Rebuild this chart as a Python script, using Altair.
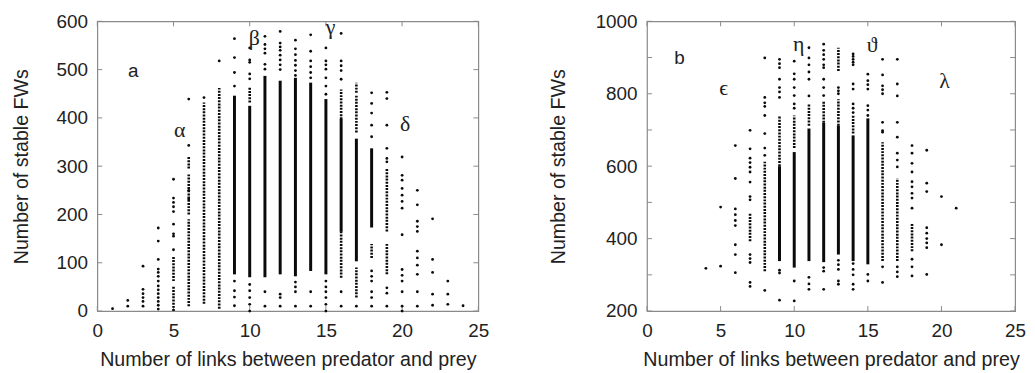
import altair as alt
import pandas as pd

# ---------------- data: panel a ----------------
A_POINTS = {
    1: [5],
    2: [22, 10],
    3: [93, 45, 36, 28, 20, 10],
    4: [172, 145, 107, 87, 80, 72, 62, 52, 44, 36, 28, 20, 12, 4],
    5: [273, 234, 225, 216, 206, 180, 160, 155, 127],
    6: [439, 343, 250, 232],
    7: [442],
    8: [518],
    9: [564, 525, 494, 466, 62, 42, 29, 11],
    10: [545, 520, 515, 491, 481, 55, 42, 28, 14, 0],
    11: [569, 552, 543, 534, 511, 501, 40, 10],
    12: [579, 555, 547, 540, 530, 520, 510, 500, 35, 28, 10],
    13: [561, 543, 531, 519, 509, 498, 488, 60, 50, 40, 10],
    14: [572, 538, 518, 506, 494, 483, 40, 10],
    15: [545, 518, 510, 501, 483, 466, 449, 62, 50, 40, 28, 14, 0],
    16: [575, 518, 508, 498, 480, 40, 10],
    17: [10],
    18: [452, 430, 410, 385, 361, 83, 72, 62, 40, 28, 10],
    19: [453, 440, 385, 337, 316, 309, 48, 37, 10],
    20: [319, 281, 271, 254, 240, 227, 213, 158, 86, 74, 62, 40, 10, 0],
    21: [250, 220, 186, 175, 165, 124, 110, 95, 76, 40, 10],
    22: [191, 107, 80, 35, 12],
    23: [62, 35, 14],
    24: [11],
}
A_SOLID = [
    (9, 76, 446), (10, 70, 425), (11, 70, 487), (12, 76, 477),
    (13, 72, 483), (14, 83, 473), (15, 76, 439), (16, 164, 398),
    (17, 103, 357), (18, 173, 337),
]
A_DOTTED = [
    (5, 62, 112), (5, 0, 51), (6, 295, 320), (6, 200, 285), (6, 10, 190),
    (7, 15, 432), (8, 5, 462), (10, 432, 463), (16, 397, 459), (16, 69, 164),
    (17, 452, 473), (17, 370, 446), (17, 28, 90), (18, 110, 139),
    (19, 165, 295), (19, 76, 139),
]
A_LABELS = [(2.35, 497, "a", "sans"), (5.4, 374, "α", "serif"),
            (10.3, 565, "β", "serif"), (15.3, 588, "γ", "serif"),
            (20.2, 388, "δ", "serif")]

# ---------------- data: panel b ----------------
B_POINTS = {
    4: [318],
    5: [487, 324],
    6: [657, 566, 482, 466, 450, 436, 383, 356, 306],
    7: [699, 648, 622, 610, 597, 584, 556, 516, 507, 356, 345, 334, 279, 268],
    8: [899, 790, 775, 765, 740, 690, 650, 630, 257],
    9: [895, 883, 872, 840, 817, 805, 790, 313, 305, 230],
    10: [890, 855, 840, 817, 795, 772, 760, 283, 228],
    11: [927, 899, 880, 860, 840, 794, 293, 275, 260],
    12: [937, 920, 908, 895, 880, 872, 840, 817, 795, 320, 310, 260],
    13: [817, 808, 800, 340, 328, 315, 283, 274],
    14: [910, 903, 895, 887, 880, 827, 813, 772, 760, 748, 331, 315, 300, 274, 260],
    15: [854, 836, 825, 813, 767, 755, 740, 301, 283],
    16: [895, 852, 822, 811, 800, 721, 698, 694, 322, 279],
    17: [895, 827, 794, 721, 680, 636, 617, 598, 322, 308, 295],
    18: [657, 636, 608, 584, 557, 543, 525, 512, 484, 343, 322, 297],
    19: [644, 553, 530, 430, 415, 400, 388, 375, 301],
    20: [516, 383],
    21: [484],
}
B_SOLID = [
    (9, 338, 600), (10, 320, 639), (11, 338, 704), (12, 335, 720),
    (13, 356, 712), (14, 338, 685), (15, 329, 732),
]
B_DOTTED = [
    (7, 393, 471), (8, 310, 612), (9, 600, 740), (10, 650, 740),
    (11, 712, 772), (12, 720, 780), (13, 863, 927), (13, 712, 785),
    (14, 690, 740), (16, 338, 666), (17, 338, 567), (18, 365, 444),
]
B_LABELS = [(2.2, 898, "b", "sans"), (5.2, 816, "ϵ", "serif"),
            (10.3, 937, "η", "serif"), (15.3, 934, "ϑ", "serif"),
            (20.2, 836, "λ", "serif")]

X_TICKS = [0, 5, 10, 15, 20, 25]
A_YTICKS = [0, 100, 200, 300, 400, 500, 600]
B_YTICKS = [200, 300, 400, 500, 600, 700, 800, 900, 1000]

X_TITLE = "Number of links between predator and prey"
Y_TITLE = "Number of stable FWs"

SANS = "Liberation Sans"
SERIF = "Liberation Serif"
INK = "#0a0a0a"
FRAME = "#8a8a8a"


def panel(points, solid, dotted, labels, yticks, ydom, w, h, ytp):
    pts = pd.DataFrame([(x, y) for x, ys in points.items() for y in ys],
                       columns=["x", "y"])
    sol = pd.DataFrame(solid, columns=["x", "lo", "hi"])
    dot = pd.DataFrame(dotted, columns=["x", "lo", "hi"])
    lab = pd.DataFrame(labels, columns=["x", "y", "t", "f"])
    xt = pd.DataFrame({"v": X_TICKS})
    yt = pd.DataFrame({"v": yticks})

    xs = alt.Scale(domain=[0, 25], nice=False, zero=False)
    ys = alt.Scale(domain=ydom, nice=False, zero=False)

    base_x = alt.X("x:Q", scale=xs, title=X_TITLE,
                   axis=alt.Axis(values=X_TICKS, labelFlush=False,
                                 format="d", titlePadding=9, labelPadding=11))
    base_y = alt.Y("y:Q", scale=ys, title=Y_TITLE,
                   axis=alt.Axis(values=yticks, format="d", titlePadding=ytp,
                                 labelPadding=10))

    p = alt.Chart(pts).mark_circle(size=8, color=INK, opacity=1).encode(
        x=base_x, y=base_y)
    s = alt.Chart(sol).mark_rule(color=INK, strokeWidth=3).encode(
        x=alt.X("x:Q", scale=xs), y=alt.Y("lo:Q", scale=ys), y2="hi:Q")
    d = alt.Chart(dot).mark_rule(color=INK, strokeWidth=2.6,
                                 strokeDash=[2, 1.2]).encode(
        x=alt.X("x:Q", scale=xs), y=alt.Y("lo:Q", scale=ys), y2="hi:Q")
    ls = alt.Chart(lab[lab.f == "sans"]).mark_text(
        font=SANS, fontSize=19, color="#222", baseline="middle",
        align="center").encode(
        x=alt.X("x:Q", scale=xs), y=alt.Y("y:Q", scale=ys), text="t:N")
    lg = alt.Chart(lab[lab.f == "serif"]).mark_text(
        font=SERIF, fontSize=22, color="#222", baseline="middle",
        align="center").encode(
        x=alt.X("x:Q", scale=xs), y=alt.Y("y:Q", scale=ys), text="t:N")

    tb = alt.Chart(xt).mark_rule(color=FRAME, strokeWidth=1).encode(
        x=alt.X("v:Q", scale=xs), y=alt.value(h), y2=alt.value(h - 5))
    tt = alt.Chart(xt).mark_rule(color=FRAME, strokeWidth=1).encode(
        x=alt.X("v:Q", scale=xs), y=alt.value(0), y2=alt.value(5))
    tl = alt.Chart(yt).mark_rule(color=FRAME, strokeWidth=1).encode(
        y=alt.Y("v:Q", scale=ys), x=alt.value(0), x2=alt.value(5))
    tr = alt.Chart(yt).mark_rule(color=FRAME, strokeWidth=1).encode(
        y=alt.Y("v:Q", scale=ys), x=alt.value(w - 5), x2=alt.value(w))

    return alt.layer(tb, tt, tl, tr, d, s, p, ls, lg).properties(
        width=w, height=h)


pa = panel(A_POINTS, A_SOLID, A_DOTTED, A_LABELS, A_YTICKS, [0, 600], 384, 292, 25)
pb = panel(B_POINTS, B_SOLID, B_DOTTED, B_LABELS, B_YTICKS, [200, 1000], 371, 292, 27)

chart = alt.hconcat(pa, pb, spacing=58).properties(
    padding={"left": 2, "top": 2, "right": 0, "bottom": 0},
    background="white",
).configure_view(stroke=FRAME, strokeWidth=1.2).configure_axis(
    grid=False, ticks=False, domain=False,
    labelFont=SANS, labelFontSize=19, labelColor="#222",
    titleFont=SANS, titleFontSize=19.8, titleFontWeight="normal",
    titleColor="#222",
)

chart.save("out.html", embed_options={"renderer": "svg", "actions": False})
